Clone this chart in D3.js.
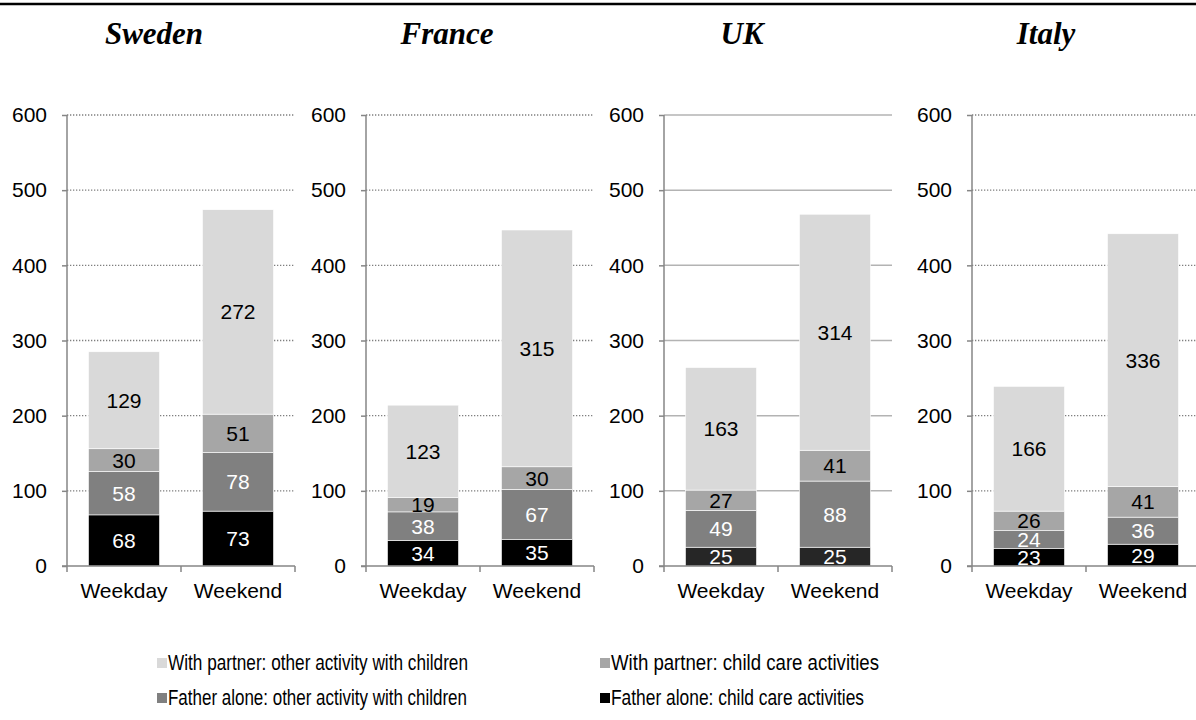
<!DOCTYPE html>
<html>
<head>
<meta charset="utf-8">
<script src="https://cdn.jsdelivr.net/npm/d3@7"></script>
<style>
  body { margin: 0; background: #fff; }
  svg { display: block; }
</style>
</head>
<body>
<script>
const countries = ["Sweden", "France", "UK", "Italy"];
const days = ["Weekday", "Weekend"];
const seriesNames = [
    "Father alone: child care activities",
    "Father alone: other activity with children",
    "With partner: child care activities",
    "With partner: other activity with children"
];
// values per country: [weekday, weekend]
const aloneCare    = [[68, 73], [34, 35], [25, 25], [23, 29]];
const aloneOther   = [[58, 78], [38, 67], [49, 88], [24, 36]];
const partnerCare  = [[30, 51], [19, 30], [27, 41], [26, 41]];
const partnerOther = [[129, 272], [123, 315], [163, 314], [166, 336]];
const yTicks = [0, 100, 200, 300, 400, 500, 600];

const width = 1196;
const height = 720;
const axisX = [67, 366, 664, 972];
const titleX = [154, 447, 742, 1046];
const plotWidth = 228;
const yTop = 115;
const yBottom = 566;

const colours = ["#000000", "#808080", "#a6a6a6", "#d9d9d9"];
const labelColours = ["#fff", "#fff", "#000", "#000"];
const font = "Liberation Sans, Arial, sans-serif";
const narrowFont = "Liberation Sans Narrow, Arial Narrow, Liberation Sans, sans-serif";

let svg = d3.select('body')
    .append('svg')
    .attr('width', width)
    .attr('height', height);

// top rule
svg.append('line')
    .attr('x1', 0).attr('x2', width)
    .attr('y1', 4).attr('y2', 4)
    .attr('stroke', '#000')
    .attr('stroke-width', 2.5);

const yScale = d3.scaleLinear()
    .domain([0, 600])
    .range([yBottom, yTop]);

const xScale = d3.scaleBand()
    .domain(days)
    .range([0, plotWidth])
    .paddingInner(0.377)
    .paddingOuter(0.1885);

const stack = d3.stack().keys(d3.range(4));

countries.forEach((country, ci) => {
    let rows = days.map((day, di) => ({
        day: day,
        0: aloneCare[ci][di],
        1: aloneOther[ci][di],
        2: partnerCare[ci][di],
        3: partnerOther[ci][di]
    }));
    let layers = stack(rows);

    // title
    svg.append('text')
        .attr('x', titleX[ci])
        .attr('y', 44)
        .attr('text-anchor', 'middle')
        .style('font-family', 'Liberation Serif, Times New Roman, serif')
        .style('font-weight', 'bold')
        .style('font-style', 'italic')
        .style('font-size', '31px')
        .text(country);

    let g = svg.append('g')
        .attr('transform', `translate(${axisX[ci]}, 0)`);

    // gridlines (UK chart uses solid ones)
    let dotted = country != "UK";
    g.selectAll('.grid')
        .data(yTicks.slice(1))
        .enter()
        .append('line')
        .attr('x1', 0).attr('x2', plotWidth)
        .attr('y1', d => yScale(d)).attr('y2', d => yScale(d))
        .attr('stroke', dotted ? '#7f7f7f' : '#b3b3b3')
        .attr('stroke-width', dotted ? 1.3 : 1.5)
        .attr('stroke-dasharray', dotted ? '1.3,1.7' : null);

    // y axis
    let yAxis = g.append('g')
        .call(d3.axisLeft(yScale).tickValues(yTicks).tickSize(5).tickPadding(15));
    yAxis.select('.domain').remove();
    yAxis.selectAll('line').attr('stroke', '#868686').attr('stroke-width', 1.5);
    yAxis.selectAll('text')
        .style('font-family', font)
        .style('font-size', '21px')
        .attr('fill', '#000');
    g.append('line')
        .attr('x1', 0).attr('x2', 0)
        .attr('y1', yTop).attr('y2', yBottom)
        .attr('stroke', '#868686')
        .attr('stroke-width', 1.5);

    // bars
    let bars = g.append('g');
    layers.forEach((layer, li) => {
        bars.selectAll('.s' + li)
            .data(layer)
            .enter()
            .append('rect')
            .attr('x', d => xScale(d.data.day))
            .attr('y', d => yScale(d[1]))
            .attr('width', xScale.bandwidth())
            .attr('height', d => yScale(d[0]) - yScale(d[1]))
            .attr('fill', (li == 0 && country == "UK") ? '#262626' : colours[li])
            .attr('stroke', '#fff')
            .attr('stroke-width', 0.6);
    });

    // value labels
    layers.forEach((layer, li) => {
        bars.selectAll('.l' + li)
            .data(layer)
            .enter()
            .append('text')
            .attr('x', d => xScale(d.data.day) + xScale.bandwidth() / 2)
            .attr('y', d => yScale((d[0] + d[1]) / 2))
            .attr('dy', '0.36em')
            .attr('text-anchor', 'middle')
            .style('font-family', font)
            .style('font-size', '21px')
            .attr('fill', labelColours[li])
            .text(d => d[1] - d[0]);
    });

    // x axis
    g.append('line')
        .attr('x1', -5).attr('x2', plotWidth)
        .attr('y1', yBottom).attr('y2', yBottom)
        .attr('stroke', '#868686')
        .attr('stroke-width', 1.5);
    g.selectAll('.xtick')
        .data([0, plotWidth / 2, plotWidth])
        .enter()
        .append('line')
        .attr('x1', d => d).attr('x2', d => d)
        .attr('y1', yBottom).attr('y2', yBottom + 6)
        .attr('stroke', '#868686')
        .attr('stroke-width', 1.5);
    g.selectAll('.xlabel')
        .data(days)
        .enter()
        .append('text')
        .attr('x', d => xScale(d) + xScale.bandwidth() / 2)
        .attr('y', 598)
        .attr('text-anchor', 'middle')
        .style('font-family', font)
        .style('font-size', '21px')
        .text(d => d);
});

// legend
const legendOrder = [3, 2, 1, 0];
const legendX = [157, 600];
const legendY = [670, 705];
const legendWidths = [300, 268, 299, 253];
legendOrder.forEach((si, i) => {
    let lx = legendX[i % 2];
    let ly = legendY[Math.floor(i / 2)];
    svg.append('rect')
        .attr('x', lx)
        .attr('y', ly - 12)
        .attr('width', 10)
        .attr('height', 10)
        .attr('fill', colours[si]);
    svg.append('text')
        .attr('x', lx + 11)
        .attr('y', ly)
        .attr('textLength', legendWidths[i])
        .attr('lengthAdjust', 'spacingAndGlyphs')
        .style('font-family', narrowFont)
        .style('font-size', '22px')
        .text(seriesNames[si]);
});
</script>
</body>
</html>
